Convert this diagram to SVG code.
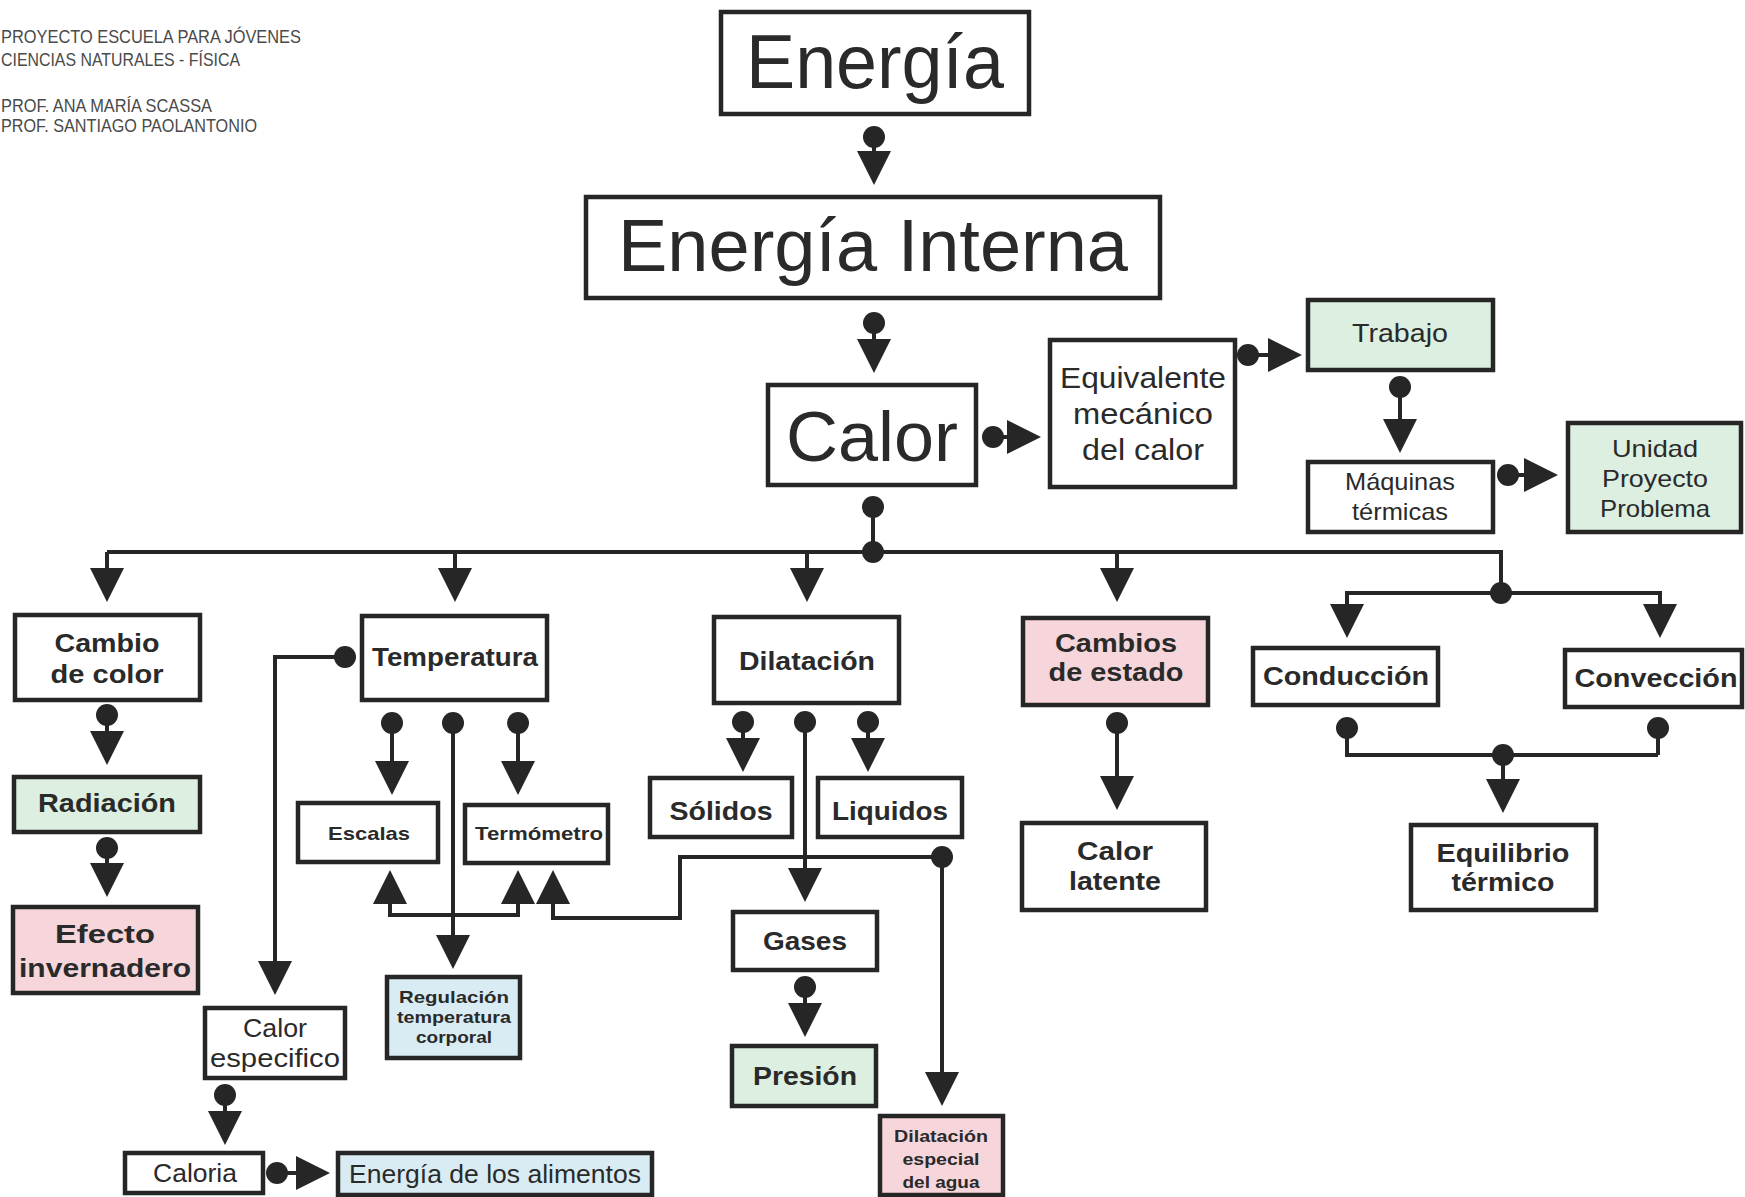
<svg xmlns="http://www.w3.org/2000/svg" width="1745" height="1197" viewBox="0 0 1745 1197">
<style>
text{font-family:"Liberation Sans",Arial,Helvetica,sans-serif;fill:#2a2a2a;text-anchor:middle}
.hd{font-size:18px;fill:#4a4a4a;text-anchor:start}
.bd{font-weight:bold}
.box{fill:#fff;stroke:#262626;stroke-width:4.5}
.g{fill:#dcefe0}
.p{fill:#f6d6da}
.b{fill:#d9ecf3}
.c{fill:none;stroke:#262626;stroke-width:4}
.a{marker-end:url(#arr)}
.d{marker-start:url(#dot)}
.j{fill:#262626}
</style>
<defs>
<marker id="arr" viewBox="0 0 34 34" refX="30" refY="17" markerWidth="34" markerHeight="34" orient="auto" markerUnits="userSpaceOnUse">
<path d="M0,0 L34,17 L0,34 Z" fill="#262626"/>
</marker>
<marker id="dot" viewBox="-12 -12 24 24" refX="0" refY="0" markerWidth="24" markerHeight="24" orient="auto" markerUnits="userSpaceOnUse">
<circle r="11" fill="#262626"/>
</marker>
</defs>
<rect width="1745" height="1197" fill="#fff"/>

<g id="header">
<text class="hd" x="1" y="43" textLength="300" lengthAdjust="spacingAndGlyphs">PROYECTO ESCUELA PARA JÓVENES</text>
<text class="hd" x="1" y="66" textLength="239" lengthAdjust="spacingAndGlyphs">CIENCIAS NATURALES - FÍSICA</text>
<text class="hd" x="1" y="112" textLength="211" lengthAdjust="spacingAndGlyphs">PROF. ANA MARÍA SCASSA</text>
<text class="hd" x="1" y="132" textLength="256" lengthAdjust="spacingAndGlyphs">PROF. SANTIAGO PAOLANTONIO</text>
</g>

<g id="connectors">
<line class="c a d" x1="874" y1="137" x2="874" y2="181"/>
<line class="c a d" x1="874" y1="323" x2="874" y2="369"/>
<line class="c a d" x1="993" y1="437" x2="1037" y2="437"/>
<line class="c a d" x1="1248" y1="355" x2="1298" y2="355"/>
<line class="c a d" x1="1400" y1="387" x2="1400" y2="449"/>
<line class="c a d" x1="1508" y1="475" x2="1554" y2="475"/>
<line class="c d" x1="873" y1="507" x2="873" y2="552"/>
<path class="c" d="M107,552 H1501 V593"/>
<line class="c a" x1="107" y1="552" x2="107" y2="598"/>
<line class="c a" x1="455" y1="552" x2="455" y2="598"/>
<line class="c a" x1="807" y1="552" x2="807" y2="598"/>
<line class="c a" x1="1117" y1="552" x2="1117" y2="598"/>
<circle class="j" cx="873" cy="552" r="11"/>
<path class="c a" d="M1501,593 H1347 V634"/>
<path class="c a" d="M1501,593 H1660 V634"/>
<circle class="j" cx="1501" cy="593" r="11"/>
<line class="c a d" x1="107" y1="715" x2="107" y2="761"/>
<line class="c a d" x1="107" y1="848" x2="107" y2="893"/>
<path class="c a d" d="M345,657 H275 V991"/>
<line class="c a d" x1="225" y1="1095" x2="225" y2="1141"/>
<line class="c a d" x1="277" y1="1173" x2="326" y2="1173"/>
<line class="c a d" x1="392" y1="723" x2="392" y2="791"/>
<line class="c a d" x1="518" y1="723" x2="518" y2="791"/>
<line class="c a d" x1="453" y1="723" x2="453" y2="965"/>
<path class="c a" d="M453,915 H390 V874"/>
<path class="c a" d="M453,915 H518 V874"/>
<path class="c a d" d="M942,857 H680 V918 H553 V874"/>
<line class="c a" x1="942" y1="857" x2="942" y2="1102"/>
<line class="c a d" x1="743" y1="722" x2="743" y2="768"/>
<line class="c a d" x1="868" y1="722" x2="868" y2="768"/>
<line class="c a d" x1="805" y1="722" x2="805" y2="898"/>
<line class="c a d" x1="805" y1="987" x2="805" y2="1033"/>
<line class="c a d" x1="1117" y1="723" x2="1117" y2="806"/>
<path class="c d" d="M1347,728 V755 H1658"/>
<line class="c d" x1="1658" y1="728" x2="1658" y2="755"/>
<line class="c a d" x1="1503" y1="755" x2="1503" y2="809"/>
</g>

<g id="energia">
<rect class="box" x="721" y="12" width="308" height="102"/>
<text x="875" y="88" font-size="76" textLength="258" lengthAdjust="spacingAndGlyphs">Energía</text>
</g>
<g id="energia-interna">
<rect class="box" x="586" y="197" width="574" height="101"/>
<text x="873" y="271" font-size="74" textLength="510" lengthAdjust="spacingAndGlyphs">Energía Interna</text>
</g>
<g id="calor">
<rect class="box" x="768" y="385" width="208" height="100"/>
<text x="872" y="461" font-size="70" textLength="172" lengthAdjust="spacingAndGlyphs">Calor</text>
</g>
<g id="equivalente">
<rect class="box" x="1050" y="340" width="185" height="147"/>
<text x="1143" y="388" font-size="30" textLength="166" lengthAdjust="spacingAndGlyphs">Equivalente</text>
<text x="1143" y="424" font-size="30" textLength="140" lengthAdjust="spacingAndGlyphs">mecánico</text>
<text x="1143" y="460" font-size="30" textLength="122" lengthAdjust="spacingAndGlyphs">del calor</text>
</g>
<g id="trabajo">
<rect class="box g" x="1308" y="300" width="185" height="70"/>
<text x="1400" y="342" font-size="25" textLength="96" lengthAdjust="spacingAndGlyphs">Trabajo</text>
</g>
<g id="maquinas">
<rect class="box" x="1308" y="462" width="185" height="70"/>
<text x="1400" y="490" font-size="24" textLength="110" lengthAdjust="spacingAndGlyphs">Máquinas</text>
<text x="1400" y="520" font-size="24" textLength="96" lengthAdjust="spacingAndGlyphs">térmicas</text>
</g>
<g id="unidad">
<rect class="box g" x="1568" y="423" width="173" height="109"/>
<text x="1655" y="457" font-size="24" textLength="86" lengthAdjust="spacingAndGlyphs">Unidad</text>
<text x="1655" y="487" font-size="24" textLength="106" lengthAdjust="spacingAndGlyphs">Proyecto</text>
<text x="1655" y="517" font-size="24" textLength="110" lengthAdjust="spacingAndGlyphs">Problema</text>
</g>

<g id="cambio-color">
<rect class="box" x="15" y="615" width="185" height="85"/>
<text class="bd" x="107" y="652" font-size="26" textLength="105" lengthAdjust="spacingAndGlyphs">Cambio</text>
<text class="bd" x="107" y="683" font-size="26" textLength="113" lengthAdjust="spacingAndGlyphs">de color</text>
</g>
<g id="radiacion">
<rect class="box g" x="14" y="777" width="186" height="55"/>
<text class="bd" x="107" y="812" font-size="26" textLength="138" lengthAdjust="spacingAndGlyphs">Radiación</text>
</g>
<g id="efecto">
<rect class="box p" x="13" y="907" width="185" height="86"/>
<text class="bd" x="105" y="943" font-size="26" textLength="100" lengthAdjust="spacingAndGlyphs">Efecto</text>
<text class="bd" x="105" y="977" font-size="26" textLength="172" lengthAdjust="spacingAndGlyphs">invernadero</text>
</g>
<g id="temperatura">
<rect class="box" x="362" y="616" width="185" height="84"/>
<text class="bd" x="455" y="666" font-size="25" textLength="166" lengthAdjust="spacingAndGlyphs">Temperatura</text>
</g>
<g id="escalas">
<rect class="box" x="298" y="803" width="140" height="59"/>
<text class="bd" x="369" y="840" font-size="19" textLength="82" lengthAdjust="spacingAndGlyphs">Escalas</text>
</g>
<g id="termometro">
<rect class="box" x="465" y="805" width="143" height="58"/>
<text class="bd" x="539" y="840" font-size="19" textLength="128" lengthAdjust="spacingAndGlyphs">Termómetro</text>
</g>
<g id="regulacion">
<rect class="box b" x="387" y="977" width="133" height="81"/>
<text class="bd" x="454" y="1003" font-size="17" textLength="110" lengthAdjust="spacingAndGlyphs">Regulación</text>
<text class="bd" x="454" y="1023" font-size="17" textLength="114" lengthAdjust="spacingAndGlyphs">temperatura</text>
<text class="bd" x="454" y="1043" font-size="17" textLength="76" lengthAdjust="spacingAndGlyphs">corporal</text>
</g>
<g id="calor-especifico">
<rect class="box" x="205" y="1008" width="140" height="70"/>
<text x="275" y="1037" font-size="26" textLength="64" lengthAdjust="spacingAndGlyphs">Calor</text>
<text x="275" y="1067" font-size="26" textLength="130" lengthAdjust="spacingAndGlyphs">especifico</text>
</g>
<g id="caloria">
<rect class="box" x="125" y="1153" width="138" height="40"/>
<text x="195" y="1182" font-size="25" textLength="84" lengthAdjust="spacingAndGlyphs">Caloria</text>
</g>
<g id="energia-alimentos">
<rect class="box b" x="338" y="1153" width="314" height="42"/>
<text x="495" y="1183" font-size="25" textLength="292" lengthAdjust="spacingAndGlyphs">Energía de los alimentos</text>
</g>

<g id="dilatacion">
<rect class="box" x="714" y="617" width="185" height="86"/>
<text class="bd" x="807" y="670" font-size="25" textLength="136" lengthAdjust="spacingAndGlyphs">Dilatación</text>
</g>
<g id="solidos">
<rect class="box" x="650" y="778" width="142" height="59"/>
<text class="bd" x="721" y="820" font-size="26" textLength="103" lengthAdjust="spacingAndGlyphs">Sólidos</text>
</g>
<g id="liquidos">
<rect class="box" x="818" y="778" width="144" height="59"/>
<text class="bd" x="890" y="820" font-size="26" textLength="116" lengthAdjust="spacingAndGlyphs">Liquidos</text>
</g>
<g id="gases">
<rect class="box" x="733" y="912" width="144" height="58"/>
<text class="bd" x="805" y="950" font-size="26" textLength="84" lengthAdjust="spacingAndGlyphs">Gases</text>
</g>
<g id="presion">
<rect class="box g" x="732" y="1046" width="144" height="60"/>
<text class="bd" x="805" y="1085" font-size="26" textLength="104" lengthAdjust="spacingAndGlyphs">Presión</text>
</g>
<g id="dilatacion-agua">
<rect class="box p" x="880" y="1116" width="123" height="79"/>
<text class="bd" x="941" y="1142" font-size="17" textLength="94" lengthAdjust="spacingAndGlyphs">Dilatación</text>
<text class="bd" x="941" y="1165" font-size="17" textLength="77" lengthAdjust="spacingAndGlyphs">especial</text>
<text class="bd" x="941" y="1188" font-size="17" textLength="77" lengthAdjust="spacingAndGlyphs">del agua</text>
</g>

<g id="cambios-estado">
<rect class="box p" x="1023" y="618" width="185" height="87"/>
<text class="bd" x="1116" y="652" font-size="26" textLength="122" lengthAdjust="spacingAndGlyphs">Cambios</text>
<text class="bd" x="1116" y="681" font-size="26" textLength="135" lengthAdjust="spacingAndGlyphs">de estado</text>
</g>
<g id="calor-latente">
<rect class="box" x="1022" y="823" width="184" height="87"/>
<text class="bd" x="1115" y="860" font-size="26" textLength="76" lengthAdjust="spacingAndGlyphs">Calor</text>
<text class="bd" x="1115" y="890" font-size="26" textLength="92" lengthAdjust="spacingAndGlyphs">latente</text>
</g>
<g id="conduccion">
<rect class="box" x="1253" y="648" width="185" height="57"/>
<text class="bd" x="1346" y="685" font-size="26" textLength="166" lengthAdjust="spacingAndGlyphs">Conducción</text>
</g>
<g id="conveccion">
<rect class="box" x="1565" y="650" width="177" height="57"/>
<text class="bd" x="1656" y="687" font-size="26" textLength="163" lengthAdjust="spacingAndGlyphs">Convección</text>
</g>
<g id="equilibrio">
<rect class="box" x="1411" y="825" width="185" height="85"/>
<text class="bd" x="1503" y="862" font-size="26" textLength="133" lengthAdjust="spacingAndGlyphs">Equilibrio</text>
<text class="bd" x="1503" y="891" font-size="26" textLength="103" lengthAdjust="spacingAndGlyphs">térmico</text>
</g>
</svg>
